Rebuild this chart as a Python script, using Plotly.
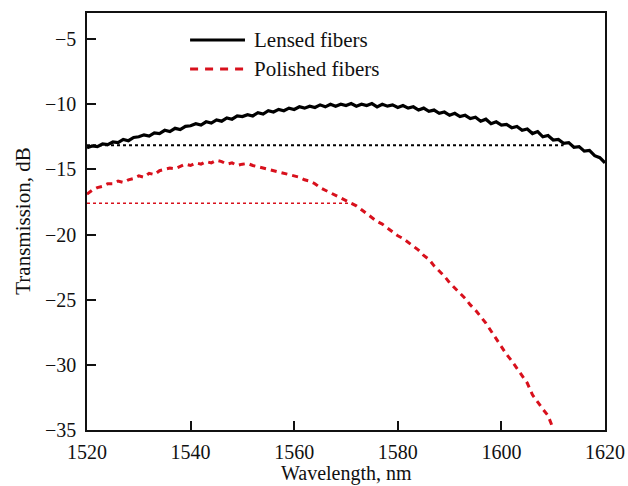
import plotly.graph_objects as go

wavelength_lensed = [1520, 1521, 1522, 1523, 1524, 1525, 1526, 1527, 1528, 1529,
                     1530, 1531, 1532, 1533, 1534, 1535, 1536, 1537, 1538, 1539,
                     1540, 1541, 1542, 1543, 1544, 1545, 1546, 1547, 1548, 1549,
                     1550, 1551, 1552, 1553, 1554, 1555, 1556, 1557, 1558, 1559,
                     1560, 1561, 1562, 1563, 1564, 1565, 1566, 1567, 1568, 1569,
                     1570, 1571, 1572, 1573, 1574, 1575, 1576, 1577, 1578, 1579,
                     1580, 1581, 1582, 1583, 1584, 1585, 1586, 1587, 1588, 1589,
                     1590, 1591, 1592, 1593, 1594, 1595, 1596, 1597, 1598, 1599,
                     1600, 1601, 1602, 1603, 1604, 1605, 1606, 1607, 1608, 1609,
                     1610, 1611, 1612, 1613, 1614, 1615, 1616, 1617, 1618, 1619,
                     1620]
lensed_db = [-13.35, -13.2, -13.25, -13.05, -13.1, -12.9, -12.95, -12.7, -12.8, -12.55,
             -12.5, -12.35, -12.45, -12.2, -12.25, -12.0, -12.1, -11.85, -11.95, -11.7,
             -11.65, -11.5, -11.6, -11.35, -11.45, -11.2, -11.3, -11.05, -11.15, -10.9,
             -10.95, -10.8, -10.9, -10.65, -10.75, -10.5, -10.6, -10.4, -10.5, -10.3,
             -10.4, -10.2, -10.3, -10.15, -10.25, -10.05, -10.2, -10.0, -10.15, -10.0,
             -10.1, -9.95, -10.15, -10.0, -10.1, -9.95, -10.2, -10.0, -10.15, -10.05,
             -10.25, -10.1, -10.3, -10.2, -10.45, -10.3, -10.55, -10.45, -10.7, -10.6,
             -10.85, -10.7, -10.95, -10.85, -11.1, -11.0, -11.3, -11.15, -11.5, -11.35,
             -11.6, -11.55, -11.8, -11.7, -12.0, -11.9, -12.25, -12.1, -12.5, -12.4,
             -12.75, -12.7, -13.0, -12.95, -13.3, -13.25, -13.6, -13.55, -13.95, -14.1,
             -14.5]

wavelength_polished = [1520, 1521, 1522, 1523, 1524, 1525, 1526, 1527, 1528, 1529,
                       1530, 1531, 1532, 1533, 1534, 1535, 1536, 1537, 1538, 1539,
                       1540, 1541, 1542, 1543, 1544, 1545, 1546, 1547, 1548, 1549,
                       1550, 1551, 1552, 1553, 1554, 1555, 1556, 1557, 1558, 1559,
                       1560, 1561, 1562, 1563, 1564, 1565, 1566, 1567, 1568, 1569,
                       1570, 1571, 1572, 1573, 1574, 1575, 1576, 1577, 1578, 1579,
                       1580, 1581, 1582, 1583, 1584, 1585, 1586, 1587, 1588, 1589,
                       1590, 1591, 1592, 1593, 1594, 1595, 1596, 1597, 1598, 1599,
                       1600, 1601, 1602, 1603, 1604, 1605, 1606, 1607, 1608, 1609,
                       1610]
polished_db = [-16.9, -16.6, -16.4, -16.3, -16.1, -16.1, -15.9, -16.0, -15.8, -15.7,
               -15.5, -15.6, -15.3, -15.4, -15.1, -15.0, -14.9, -14.95, -14.8, -14.6,
               -14.7, -14.5, -14.6, -14.4, -14.5, -14.3, -14.4, -14.6, -14.5, -14.7,
               -14.6, -14.55, -14.7, -14.8, -14.9, -15.0, -15.1, -15.2, -15.3, -15.4,
               -15.5, -15.6, -15.8, -15.9, -16.1, -16.4, -16.6, -16.8, -17.0, -17.2,
               -17.4, -17.6, -17.8, -18.1, -18.4, -18.7, -19.0, -19.2, -19.5, -19.8,
               -20.1, -20.3, -20.6, -20.9, -21.2, -21.6, -21.9, -22.4, -22.8, -23.2,
               -23.7, -24.1, -24.5, -24.9, -25.4, -25.8, -26.3, -26.8, -27.4, -28.0,
               -28.7, -29.2, -29.7, -30.3, -30.9, -31.4, -32.3, -32.9, -33.4, -33.9,
               -34.9]

# horizontal reference levels (start, end wavelength; level in dB)
lensed_ref_x = [1520, 1612]
lensed_ref_db = [-13.15, -13.15]
polished_ref_x = [1520, 1571]
polished_ref_db = [-17.6, -17.6]

x_ticks = [1520, 1540, 1560, 1580, 1600, 1620]
y_ticks = [-35, -30, -25, -20, -15, -10, -5]
y_tick_labels = ["\u221235", "\u221230", "\u221225", "\u221220", "\u221215", "\u221210", "\u22125"]

series_names = ["Lensed fibers", "Polished fibers"]

BLACK = "#000000"
RED = "#d8101c"
FONT = "Liberation Serif"
TEXT = "#111111"

fig = go.Figure()
fig.add_trace(go.Scatter(x=lensed_ref_x, y=lensed_ref_db, mode="lines",
                         line=dict(color=BLACK, width=2, dash="dot"),
                         showlegend=False, hoverinfo="skip"))
fig.add_trace(go.Scatter(x=polished_ref_x, y=polished_ref_db, mode="lines",
                         line=dict(color=RED, width=1.6, dash="dot"),
                         showlegend=False, hoverinfo="skip"))
fig.add_trace(go.Scatter(x=wavelength_lensed, y=lensed_db, mode="lines",
                         name=series_names[0], showlegend=False,
                         line=dict(color=BLACK, width=3.2)))
fig.add_trace(go.Scatter(x=wavelength_polished, y=polished_db, mode="lines",
                         name=series_names[1], showlegend=False,
                         line=dict(color=RED, width=3, dash="6px,5px")))

# hand-placed legend (line samples + labels)
legend_rows = [(0.935, BLACK, "solid"), (0.866, RED, "8px,7px")]
shapes = []
annotations = []
for (yy, col, dsh), name in zip(legend_rows, series_names):
    shapes.append(dict(type="line", xref="paper", yref="paper",
                       x0=0.199, x1=0.305, y0=yy, y1=yy,
                       line=dict(color=col, width=3, dash=dsh)))
    annotations.append(dict(xref="paper", yref="paper", x=0.318, y=yy,
                            xanchor="left", yanchor="middle", showarrow=False,
                            text=name, font=dict(family=FONT, size=21, color=TEXT)))

# y tick labels placed on the y axis scale
for v, lab in zip(y_ticks, y_tick_labels):
    annotations.append(dict(xref="paper", yref="y", x=-0.017, y=v,
                            xanchor="right", yanchor="middle", showarrow=False,
                            text=lab, font=dict(family=FONT, size=20, color=TEXT)))

annotations.append(dict(xref="paper", yref="paper", x=0.5, y=-0.1055,
                        xanchor="center", yanchor="middle", showarrow=False,
                        text="Wavelength, nm",
                        font=dict(family=FONT, size=20, color=TEXT)))
annotations.append(dict(xref="paper", yref="paper", x=-0.125, y=0.5,
                        xanchor="center", yanchor="middle", showarrow=False,
                        textangle=-90, text="Transmission, dB",
                        font=dict(family=FONT, size=21, color=TEXT)))

fig.update_layout(
    width=628, height=486,
    margin=dict(l=87, r=23, t=13, b=56),
    paper_bgcolor="white", plot_bgcolor="white",
    font=dict(family=FONT, size=20, color=TEXT),
    showlegend=False,
    shapes=shapes,
    annotations=annotations,
    xaxis=dict(range=[1520, 1620], tickvals=x_ticks,
               showgrid=False, zeroline=False,
               showline=True, linecolor=TEXT, linewidth=2, mirror=True,
               ticks="inside", ticklen=9, tickwidth=1.5, tickcolor=TEXT,
               ticklabelstandoff=3, automargin=False),
    yaxis=dict(range=[-35, -3], tickvals=y_ticks, showticklabels=False,
               showgrid=False, zeroline=False,
               showline=True, linecolor=TEXT, linewidth=2, mirror=True,
               ticks="inside", ticklen=9, tickwidth=1.5, tickcolor=TEXT,
               automargin=False),
)

fig.write_html("out.html")
